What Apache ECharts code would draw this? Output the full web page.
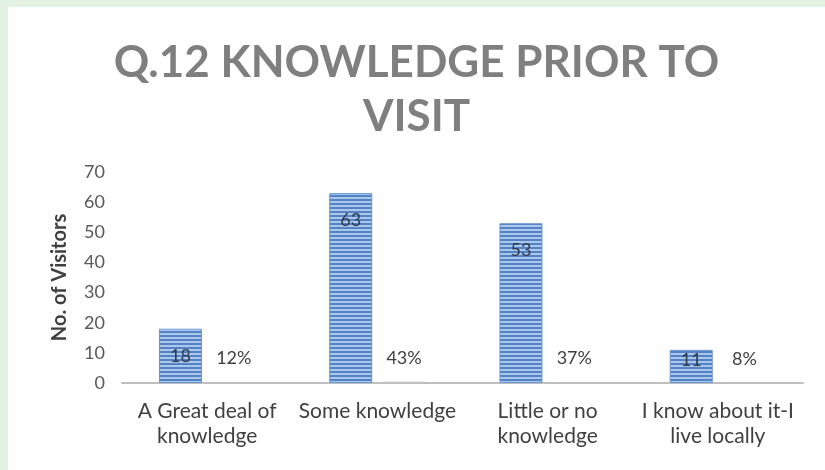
<!DOCTYPE html>
<html>
<head>
<meta charset="utf-8">
<script src="https://cdn.jsdelivr.net/npm/echarts@6/dist/echarts.min.js"></script>
<style>
  html, body { margin: 0; padding: 0; background: #e4f2e4; }
  #chart { position: absolute; left: 8px; top: 7px; width: 817px; height: 463px; background: #ffffff; }
</style>
</head>
<body>
<div id="chart"></div>
<script>
// Survey answers: knowledge of the site before visiting
const categories = [
  'A Great deal of\nknowledge',
  'Some knowledge',
  'Little or no\nknowledge',
  'I know about it-I\nlive locally'
];
const visitorCounts = [18, 63, 53, 11];
const visitorShares = [0.12, 0.43, 0.37, 0.08];
const yTicks = [0, 10, 20, 30, 40, 50, 60, 70];

// Horizontal stripe fill for the bars
function stripePattern() {
  const c = document.createElement('canvas');
  c.width = 4; c.height = 4;
  const g = c.getContext('2d');
  g.fillStyle = '#adc7eb';
  g.fillRect(0, 0, 4, 4);
  g.fillStyle = '#5283c6';
  g.fillRect(0, 0, 4, 2);
  return c;
}

const chart = echarts.init(document.getElementById('chart'), null, { renderer: 'canvas' });
const labelFont = 'Lato, "Open Sans", sans-serif';

chart.setOption({
  animation: false,
  backgroundColor: '#ffffff',
  title: {
    text: 'Q.12 KNOWLEDGE PRIOR TO\nVISIT',
    left: 'center',
    top: 24,
    textStyle: {
      fontFamily: labelFont,
      fontWeight: 'bold',
      fontSize: 44,
      lineHeight: 54,
      color: '#7f7f7f'
    }
  },
  grid: { left: 114, right: 22, top: 165, bottom: 87 },
  xAxis: {
    type: 'category',
    data: categories,
    axisLine: { lineStyle: { color: '#bfbfbf', width: 2 } },
    axisTick: { show: false },
    axisLabel: {
      interval: 0,
      margin: 16,
      fontFamily: labelFont,
      fontSize: 21,
      lineHeight: 25,
      color: '#404040'
    }
  },
  yAxis: {
    type: 'value',
    min: yTicks[0],
    max: yTicks[yTicks.length - 1],
    interval: yTicks[1] - yTicks[0],
    name: 'No. of Visitors',
    nameLocation: 'middle',
    nameGap: 52,
    nameTextStyle: {
      fontFamily: labelFont,
      fontWeight: 'bold',
      fontSize: 20,
      color: '#404040'
    },
    splitLine: { show: false },
    axisLine: { show: false },
    axisTick: { show: false },
    axisLabel: {
      margin: 17,
      fontFamily: labelFont,
      fontSize: 18,
      color: '#595959'
    }
  },
  series: [
    {
      name: 'Visitors',
      type: 'bar',
      barWidth: 43,
      barGap: '24%',
      data: visitorCounts.map(v => ({
        value: v,
        label: { distance: v >= 15 ? 18 : 1 }
      })),
      itemStyle: {
        color: { image: stripePattern(), repeat: 'repeat' },
        borderColor: '#6b95cf',
        borderWidth: 1
      },
      label: {
        show: true,
        position: 'insideTop',
        fontFamily: labelFont,
        fontSize: 18,
        color: '#2e3a4a'
      }
    },
    {
      name: 'Share',
      type: 'bar',
      barWidth: 43,
      data: visitorShares,
      itemStyle: { color: '#bfbfbf' },
      label: {
        show: true,
        position: 'top',
        distance: 15,
        fontFamily: labelFont,
        fontSize: 18,
        color: '#404040',
        formatter: p => Math.round(p.value * 100) + '%'
      }
    }
  ]
});
</script>
</body>
</html>
